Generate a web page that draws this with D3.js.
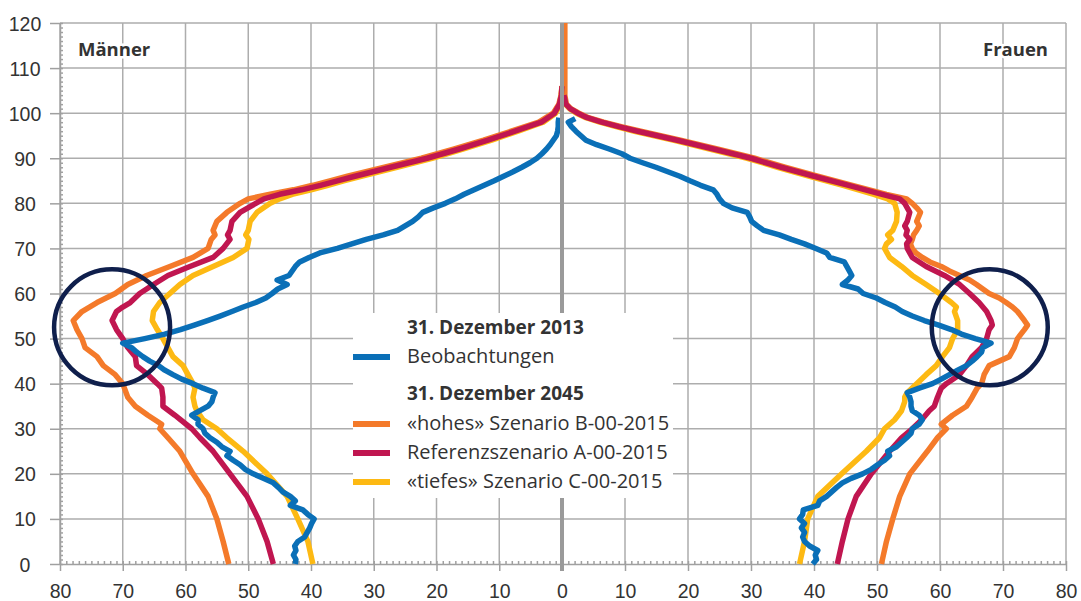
<!DOCTYPE html>
<html lang="de">
<head>
<meta charset="UTF-8">
<title>Bevölkerungspyramide</title>
<script src="https://cdn.jsdelivr.net/npm/d3@7"></script>
<style>
  body { margin: 0; background: #fff; }
  svg { display: block; font-family: "Open Sans", sans-serif; }
  .tick text { fill: #333; font-size: 19.5px; }
</style>
</head>
<body>
<div id="chart"></div>
<script>

// tick labels
var ageTicks = [0, 10, 20, 30, 40, 50, 60, 70, 80, 90, 100, 110, 120];
var popTicks = [0, 10, 20, 30, 40, 50, 60, 70, 80];

// [Alter, Personen in Tausend] – Männer (links)
var menObs2013 = [[0,42.5],[1,42.4],[2,42.8],[3,42.4],[4,42.6],[5,42.1],[6,41.0],[7,40.6],[8,40.2],[9,39.9],[10,39.5],[11,40.5],[12,41.3],[13,43.3],[14,42.5],[15,43.3],[16,44.5],[17,45.2],[18,46.0],[19,47.6],[20,49.2],[21,50.5],[22,51.3],[23,52.4],[24,53.4],[25,52.9],[26,54.2],[27,55.0],[28,56.1],[29,56.9],[30,57.2],[31,58.0],[32,58.0],[33,59.0],[34,57.7],[35,56.4],[36,55.8],[37,55.6],[38,55.3],[39,57.2],[40,58.8],[41,60.6],[42,62.0],[43,63.3],[44,64.3],[45,65.7],[46,66.8],[47,67.8],[48,68.6],[49,70.0],[50,66.5],[51,63.3],[52,60.8],[53,58.6],[54,56.5],[55,54.5],[56,52.6],[57,50.8],[58,48.8],[59,47.2],[60,46.2],[61,45.3],[62,43.8],[63,45.4],[64,43.5],[65,43.0],[66,42.5],[67,41.8],[68,40.3],[69,38.6],[70,35.8],[71,33.5],[72,31.2],[73,28.5],[74,26.2],[75,25.0],[76,23.8],[77,22.9],[78,22.2],[79,20.5],[80,18.6],[81,17.0],[82,15.6],[83,14.0],[84,12.4],[85,10.8],[86,9.3],[87,7.8],[88,6.4],[89,5.1],[90,4.0],[91,3.2],[92,2.5],[93,1.9],[94,1.4],[95,0.9],[96,0.7],[97,0.6],[98,0.6],[99,0.5]];
var menHigh2045 = [[0,53.1],[5,54.0],[10,55.0],[15,56.4],[20,58.8],[25,60.9],[28,62.8],[30,64.1],[31,63.8],[33,66.0],[35,68.0],[37,69.2],[40,70.0],[42,71.2],[44,73.1],[46,74.1],[48,76.0],[50,76.5],[52,77.3],[54,77.9],[56,76.5],[58,74.1],[60,71.2],[62,69.2],[64,66.2],[66,62.5],[68,58.8],[70,56.4],[72,55.9],[73,55.3],[74,55.6],[76,55.0],[78,53.4],[80,51.3],[81,50.0],[82,46.5],[83,42.8],[84,39.7],[85,37.0],[86,34.2],[88,28.3],[90,22.4],[92,17.3],[94,12.5],[96,8.1],[98,3.7],[100,1.4],[102,0.5],[104,0.15],[106,0]];
var menRef2045 = [[0,46.0],[5,47.0],[10,48.4],[15,50.2],[20,52.9],[25,55.6],[28,57.7],[30,59.0],[33,61.7],[35,63.6],[37,63.6],[39,63.8],[40,64.5],[42,66.0],[44,67.8],[46,68.0],[48,69.2],[50,70.0],[52,71.0],[54,71.7],[56,71.0],[57,70.0],[58,68.8],[60,67.3],[62,65.1],[64,62.8],[66,59.3],[68,55.6],[70,54.0],[72,52.9],[73,53.3],[74,52.9],[76,52.6],[78,51.3],[80,48.8],[81,47.5],[82,45.0],[83,41.5],[84,38.5],[85,35.8],[86,33.0],[88,27.3],[90,21.5],[92,16.5],[94,11.8],[96,7.5],[98,3.3],[100,1.2],[102,0.4],[104,0.1],[106,0]];
var menLow2045 = [[0,39.7],[5,40.5],[10,42.1],[15,43.8],[20,47.0],[25,50.8],[28,53.4],[30,55.0],[32,57.2],[34,58.2],[35,58.5],[37,58.8],[39,58.5],[40,58.8],[42,59.6],[44,60.4],[46,62.0],[48,62.8],[50,63.6],[52,64.5],[54,65.3],[56,65.1],[58,64.1],[60,62.5],[62,60.9],[64,58.8],[66,55.6],[68,52.4],[70,50.2],[72,49.9],[73,50.4],[74,50.0],[76,49.7],[78,48.6],[80,46.5],[81,45.0],[82,43.0],[83,40.0],[84,37.3],[85,34.8],[86,32.0],[88,26.3],[90,20.7],[92,15.8],[94,11.2],[96,7.0],[98,3.0],[100,1.0],[102,0.3],[104,0.1],[106,0]];

// Frauen (rechts)
var womenObs2013 = [[0,39.8],[1,40.4],[2,40.2],[3,40.6],[4,39.3],[5,38.5],[6,38.2],[7,38.5],[8,38.0],[9,38.5],[10,37.7],[11,38.2],[12,38.3],[13,40.6],[14,40.9],[15,42.0],[16,42.8],[17,43.6],[18,44.5],[19,45.9],[20,47.7],[21,49.1],[22,50.1],[23,51.2],[24,52.0],[25,51.7],[26,53.1],[27,53.9],[28,54.7],[29,55.4],[30,55.6],[31,56.7],[32,57.2],[33,56.7],[34,55.6],[35,55.4],[36,55.4],[37,55.2],[38,54.8],[39,56.7],[40,58.8],[41,60.2],[42,61.5],[43,62.8],[44,64.2],[45,65.1],[46,65.9],[47,66.6],[48,66.8],[49,68.1],[50,65.6],[51,63.4],[52,61.8],[53,59.8],[54,57.5],[55,55.6],[56,54.0],[57,52.9],[58,51.3],[59,49.9],[60,47.8],[61,47.0],[62,44.5],[63,45.4],[64,46.0],[65,45.6],[66,45.2],[67,44.8],[68,42.5],[69,42.0],[70,40.3],[71,38.5],[72,36.4],[73,34.5],[74,32.0],[75,31.0],[76,30.1],[77,29.8],[78,29.4],[79,27.0],[80,25.6],[81,25.0],[82,24.6],[83,24.0],[84,22.0],[85,20.3],[86,18.7],[87,16.8],[88,14.9],[89,12.8],[90,10.8],[91,9.5],[92,7.6],[93,5.5],[94,3.8],[95,3.0],[96,2.2],[97,1.5],[98,1.0],[98.8,2.1]];
var womenHigh2045 = [[0,50.7],[5,51.5],[10,52.5],[15,53.6],[20,55.2],[25,58.0],[28,59.6],[30,61.0],[31,60.2],[33,62.0],[35,64.2],[37,65.1],[39,65.9],[40,66.6],[42,67.0],[44,67.8],[45,69.4],[46,71.0],[48,71.8],[50,72.3],[52,73.4],[53,73.9],[54,73.4],[56,72.3],[57,71.5],[58,70.5],[59,69.4],[60,67.8],[62,65.8],[63,64.7],[64,63.1],[65,61.5],[66,60.2],[67,58.4],[68,57.2],[69,56.2],[70,55.6],[71,55.3],[72,55.6],[73,55.8],[74,56.3],[75,56.7],[76,56.3],[77,56.6],[78,56.9],[79,56.3],[80,55.6],[81,54.7],[82,51.5],[84,46.1],[86,40.6],[88,35.4],[90,30.6],[92,24.8],[94,18.8],[96,12.5],[97,9.4],[98,6.6],[99,4.2],[100,2.7],[101,1.4],[102,0.7],[104,0.45],[110,0.45],[120,0.45]];
var womenRef2045 = [[0,43.7],[5,44.5],[10,45.4],[15,46.7],[20,49.1],[25,52.0],[28,53.9],[30,55.6],[32,57.1],[34,58.3],[35,59.1],[37,59.6],[39,60.2],[40,61.0],[42,63.1],[44,64.2],[46,65.1],[48,66.6],[50,67.4],[52,67.8],[53,68.3],[54,68.1],[56,67.4],[58,66.2],[60,64.7],[62,63.1],[64,60.7],[66,57.8],[68,55.6],[70,54.8],[71,54.7],[72,55.2],[73,54.6],[74,54.8],[75,54.4],[76,54.8],[78,55.2],[79,54.8],[80,54.4],[81,53.6],[82,50.8],[84,45.5],[86,40.0],[88,34.8],[90,30.0],[92,24.2],[94,18.3],[96,12.0],[97,9.0],[98,6.3],[99,4.0],[100,2.5],[101,1.3],[102,0.6],[104,0.3]];
var womenLow2045 = [[0,37.7],[5,38.5],[10,39.0],[15,40.6],[20,44.4],[25,48.3],[28,50.4],[30,51.2],[32,52.8],[34,53.9],[36,54.4],[37,54.4],[38,54.8],[40,56.3],[42,57.8],[44,59.4],[46,60.4],[48,61.5],[50,62.0],[52,62.8],[54,62.8],[56,62.3],[57,62.6],[58,61.8],[60,59.9],[62,57.8],[64,55.6],[66,53.9],[68,52.0],[70,51.2],[71,51.5],[72,52.3],[73,51.7],[74,52.5],[76,53.1],[78,53.2],[80,52.8],[81,51.7],[82,49.5],[84,44.6],[86,39.3],[88,34.2],[90,29.4],[92,23.6],[94,17.8],[96,11.5],[97,8.6],[98,6.0],[99,3.8],[100,2.3],[101,1.2],[102,0.5],[104,0.2]];

var colors = { obs: "#0a6fb7", high: "#f47a2a", ref: "#c01650", low: "#fdb913" };

var legendItems = [
    { text: "31. Dezember 2013", header: true },
    { text: "Beobachtungen", color: colors.obs },
    { text: "31. Dezember 2045", header: true },
    { text: "\u00abhohes\u00bb Szenario B-00-2015", color: colors.high },
    { text: "Referenzszenario A-00-2015", color: colors.ref },
    { text: "\u00abtiefes\u00bb Szenario C-00-2015", color: colors.low }
];

// markierte Stellen (Alter ~52, Kreis)
var highlights = [
    { side: "left", value: 71.7, age: 52.5 },
    { side: "right", value: 67.9, age: 52.5 }
];

var w = 1081, h = 601;
var gridColor = "#adadad";

var svg = d3.select("#chart").append("svg")
    .attr("width", w)
    .attr("height", h);

var xLeft = d3.scaleLinear().domain([0, 80]).range([562, 60]);
var xRight = d3.scaleLinear().domain([0, 80]).range([562, 1066]);
var y = d3.scaleLinear().domain([0, 120]).range([564, 23]);

// gridlines
var grid = svg.append("g");
grid.selectAll("line.h")
    .data(ageTicks.filter(function(d){ return d > 0; }))
    .enter().append("line")
    .attr("x1", xLeft(80)).attr("x2", xRight(80))
    .attr("y1", function(d){ return y(d); }).attr("y2", function(d){ return y(d); })
    .attr("stroke", gridColor).attr("stroke-width", 1.5);
grid.selectAll("line.vl")
    .data(popTicks.filter(function(d){ return d > 0; }))
    .enter().append("line")
    .attr("x1", function(d){ return xLeft(d); }).attr("x2", function(d){ return xLeft(d); })
    .attr("y1", y(120)).attr("y2", y(0))
    .attr("stroke", gridColor).attr("stroke-width", 1.5);
grid.selectAll("line.vr")
    .data(popTicks.filter(function(d){ return d > 0; }))
    .enter().append("line")
    .attr("x1", function(d){ return xRight(d); }).attr("x2", function(d){ return xRight(d); })
    .attr("y1", y(120)).attr("y2", y(0))
    .attr("stroke", gridColor).attr("stroke-width", 1.5);

// axes
function styleAxis(g) {
    g.selectAll("path.domain").attr("stroke", "#a0a0a0").attr("stroke-width", 1.5);
    g.selectAll(".tick line").attr("stroke", "#a0a0a0").attr("stroke-width", 1.5);
}

var yAxis = svg.append("g")
    .attr("transform", "translate(" + xLeft(80) + ",0)")
    .call(d3.axisLeft(y).tickValues(ageTicks).tickSize(10).tickSizeOuter(0))
    .call(styleAxis);
yAxis.selectAll("text").attr("text-anchor", "middle").attr("x", -35).attr("dy", "0.36em");

svg.append("g")
    .attr("transform", "translate(" + xLeft(80) + ",0)")
    .call(d3.axisRight(y).tickValues(d3.range(0, 121, 1)).tickSize(3).tickFormat("").tickSizeOuter(0))
    .call(styleAxis)
    .select("path.domain").remove();

var xAxisL = svg.append("g")
    .attr("transform", "translate(0," + y(0) + ")")
    .call(d3.axisBottom(xLeft).tickValues(popTicks).tickSize(7).tickSizeOuter(0))
    .call(styleAxis);
xAxisL.selectAll("text").attr("y", 20);

var xAxisR = svg.append("g")
    .attr("transform", "translate(0," + y(0) + ")")
    .call(d3.axisBottom(xRight).tickValues(popTicks.filter(function(d){ return d > 0; })).tickSize(7).tickSizeOuter(0))
    .call(styleAxis);
xAxisR.selectAll("text").attr("y", 20);

[xLeft, xRight].forEach(function(sc){
    svg.append("g")
        .attr("transform", "translate(0," + y(0) + ")")
        .call(d3.axisTop(sc).tickValues(d3.range(0, 81, 1)).tickSize(3).tickFormat("").tickSizeOuter(0))
        .call(styleAxis)
        .select("path.domain").remove();
});

// series
var lineLeft = d3.line()
    .x(function(d){ return xLeft(d[1]); })
    .y(function(d){ return y(d[0]); });
var lineRight = d3.line()
    .x(function(d){ return xRight(d[1]); })
    .y(function(d){ return y(d[0]); });

var series = [
    { data: menHigh2045, line: lineLeft, color: colors.high },
    { data: womenHigh2045, line: lineRight, color: colors.high },
    { data: menLow2045, line: lineLeft, color: colors.low },
    { data: womenLow2045, line: lineRight, color: colors.low },
    { data: menRef2045, line: lineLeft, color: colors.ref },
    { data: womenRef2045, line: lineRight, color: colors.ref },
    { data: menObs2013, line: lineLeft, color: colors.obs },
    { data: womenObs2013, line: lineRight, color: colors.obs }
];

svg.append("g").selectAll("path")
    .data(series)
    .enter().append("path")
    .attr("d", function(s){ return s.line(s.data); })
    .attr("fill", "none")
    .attr("stroke", function(s){ return s.color; })
    .attr("stroke-width", 5.5)
    .attr("stroke-linejoin", "round");

// center axis
svg.append("line")
    .attr("x1", xLeft(0)).attr("x2", xLeft(0))
    .attr("y1", y(120)).attr("y2", y(0) + 7)
    .attr("stroke", "#9a9a9a").attr("stroke-width", 4);

// side labels
svg.append("text")
    .attr("x", 78).attr("y", 56)
    .attr("font-size", 18.5).attr("font-weight", "bold").attr("fill", "#333")
    .attr("stroke", "#fff").attr("stroke-width", 5).attr("paint-order", "stroke")
    .text("Männer");
svg.append("text")
    .attr("x", 1048).attr("y", 56).attr("text-anchor", "end")
    .attr("font-size", 18.5).attr("font-weight", "bold").attr("fill", "#333")
    .attr("stroke", "#fff").attr("stroke-width", 5).attr("paint-order", "stroke")
    .text("Frauen");

// legend
var legend = svg.append("g");
legend.append("rect")
    .attr("x", 353).attr("y", 313).attr("width", 320).attr("height", 185)
    .attr("fill", "#fff");
var rowY = [334, 363, 400, 430, 459, 488];
var items = legend.selectAll("g.item")
    .data(legendItems)
    .enter().append("g")
    .attr("transform", function(d, i){ return "translate(0," + rowY[i] + ")"; });
items.append("text")
    .attr("x", 407)
    .attr("font-size", function(d){ return d.header ? 19 : 20; })
    .attr("font-weight", function(d){ return d.header ? "bold" : "normal"; })
    .attr("fill", "#333")
    .text(function(d){ return d.text; });
items.filter(function(d){ return !d.header; })
    .append("line")
    .attr("x1", 353).attr("x2", 390)
    .attr("y1", -6).attr("y2", -6)
    .attr("stroke", function(d){ return d.color; })
    .attr("stroke-width", 6);

// highlight circles
svg.append("g").selectAll("circle")
    .data(highlights)
    .enter().append("circle")
    .attr("cx", function(d){ return d.side === "left" ? xLeft(d.value) : xRight(d.value); })
    .attr("cy", function(d){ return y(d.age); })
    .attr("r", 58)
    .attr("fill", "none")
    .attr("stroke", "#0f1f4c")
    .attr("stroke-width", 4.5);

</script>
</body>
</html>
